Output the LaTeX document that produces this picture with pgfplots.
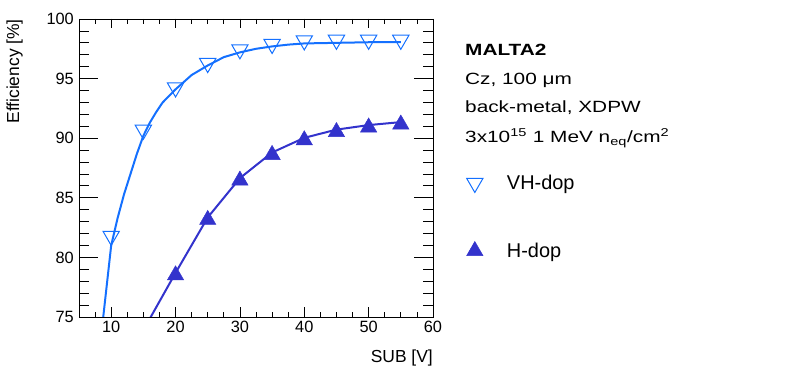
\documentclass[border=0pt]{standalone}
\usepackage{fontspec}
\setmainfont{Liberation Sans}
\usepackage{graphicx}
\usepackage{pgfplots}
\pgfplotsset{compat=1.18}

\definecolor{vhblue}{RGB}{20,112,255}
\definecolor{hblue}{RGB}{51,51,204}

\begin{document}
\begin{tikzpicture}
\path[use as bounding box] (0,0) rectangle (788bp,378bp);
\begin{axis}[
  at={(79bp,61bp)}, anchor=south west,
  scale only axis, width=354bp, height=298bp,
  xmin=5, xmax=60, ymin=75, ymax=100,
  xtick={10,20,...,60}, ytick={75,80,...,100},
  minor xtick={5,7.5,...,60}, minor ytick={75,76,...,100},
  tick align=inside, xtick pos=both, ytick pos=both,
  xticklabel pos=lower, yticklabel pos=left,
  xtick style={/pgfplots/major tick length=9.5bp, /pgfplots/minor tick length=4.7bp, black, line width=0.8bp},
  ytick style={/pgfplots/major tick length=19bp, /pgfplots/minor tick length=9.7bp, black, line width=0.8bp},
  axis line style={line width=0.9bp},
  /pgf/number format/assume math mode=true,
  ticklabel style={font=\fontsize{16.4}{19}\selectfont},
  yticklabel style={inner xsep=0pt, xshift=-5bp},
  xticklabel style={inner ysep=0pt, yshift=-4bp},
  xlabel={SUB [V]}, ylabel={Efficiency [\%]},
  label style={font=\fontsize{17.5}{20}\selectfont},
  xlabel style={at={(axis description cs:1,-0.154)}, anchor=base east, inner sep=0pt},
  ylabel style={at={(axis description cs:-0.182,1)}, anchor=east, inner sep=0pt},
  legend style={draw=none, fill=none, at={(axis description cs:1.0946,0.3356)}, anchor=west,
    inner sep=0pt, row sep=49bp, column sep=24bp, font=\fontsize{20}{24}\selectfont,
    nodes={inner sep=0pt}},
  legend cell align=left,
]
% VH-dop curve and points
\addplot[vhblue, line width=2bp, forget plot] coordinates {
  (8.6,74.2)(10,81.0)(11,83.3)(12,85.3)(13,87.0)(14,88.7)(15,90.2)(16,91.3)(17,92.2)
  (18,93.0)(20,94.1)(22.5,95.3)(25,96.1)(27.5,96.8)(30,97.2)(32.5,97.5)(35,97.7)
  (37.5,97.85)(40,97.95)(45,98.0)(50,98.05)(55,98.05)
};
\addplot[only marks, mark=triangle, mark size=9.4bp, vhblue,
  mark options={yshift=2.3bp, rotate=180, line width=1bp}, forget plot] coordinates {
  (10,81.6)(15,90.5)(20,94.05)(25,96.1)(30,97.25)(35,97.7)(40,98.0)(45,98.05)(50,98.05)(55,98.05)
};
% H-dop
\addplot[hblue, line width=2bp, mark=triangle*, mark size=9.4bp,
  mark options={yshift=-2.3bp, line width=0.5bp}, forget plot] coordinates {
  (15,73.9)(20,78.7)(25,83.35)(30,86.65)(35,88.8)(40,90.03)(45,90.72)(50,91.1)(55,91.35)
};
\addlegendimage{only marks, mark=triangle, mark size=9.4bp, vhblue, mark options={rotate=180, line width=1bp}}
\addlegendentry{VH-dop}
\addlegendimage{only marks, mark=triangle*, mark size=9.4bp, hblue, mark options={line width=0.5bp}}
\addlegendentry{H-dop}
\end{axis}
\node[anchor=base west, inner sep=0pt] at (465bp,322bp)
  {\scalebox{1.28}[1]{\fontsize{16.3}{19}\selectfont\bfseries MALTA2}};
\node[anchor=base west, inner sep=0pt] at (465bp,293bp)
  {\scalebox{1.28}[1]{\fontsize{16.3}{19}\selectfont Cz, 100 μm}};
\node[anchor=base west, inner sep=0pt] at (465bp,265.3bp)
  {\scalebox{1.28}[1]{\fontsize{16.3}{19}\selectfont back-metal, XDPW}};
\node[anchor=base west, inner sep=0pt] at (465bp,235bp)
  {\scalebox{1.28}[1]{\fontsize{16.3}{19}\selectfont 3x10\textsuperscript{15} 1 MeV n\textsubscript{eq}/cm\textsuperscript{2}}};
\end{tikzpicture}
\end{document}
